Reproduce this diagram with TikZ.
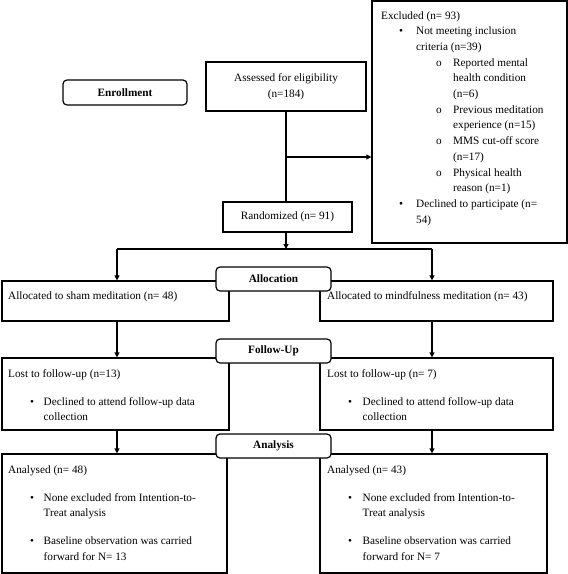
\documentclass[tikz,border=0pt]{standalone}
\usepackage{fontspec}
\setmainfont{Liberation Serif}
\usetikzlibrary{arrows.meta}
\newcommand{\fsz}{\fontsize{11.25}{15.7}\selectfont}
\begin{document}
\begin{tikzpicture}[x=1pt,y=-1pt,
  box/.style={draw, line width=1.2pt, inner sep=0pt},
  lab/.style={draw, line width=1.2pt, rounded corners=4pt, fill=white, minimum width=115pt, minimum height=24pt, font=\fsz\bfseries, inner sep=0pt},
  arr/.style={line width=1.1pt, -{Triangle[length=5pt,width=5pt]}},
  ln/.style={line width=1.1pt},
  txt/.style={anchor=base west, inner sep=0pt, align=left, font=\fsz}
]
\useasboundingbox (0,0) rectangle (568,574);

% boxes
\node[lab, minimum width=124pt, minimum height=25pt] (enroll) at (125,92.5) {Enrollment};
\node[box, minimum width=160pt, minimum height=49pt, font=\fsz, align=center] (assess) at (286,86.5) {Assessed for eligibility\\(n=184)};
\node[box, minimum width=129pt, minimum height=30pt, font=\fsz] (rand) at (287.5,217) {Randomized (n= 91)};
\node[box, minimum width=195pt, minimum height=242pt] (excl) at (469.5,122) {};
\node[box, minimum width=227pt, minimum height=40pt] (sham) at (115.5,301) {};
\node[box, minimum width=233pt, minimum height=40pt] (mind) at (436.5,301) {};
\node[box, minimum width=227pt, minimum height=72pt] (lostl) at (115.5,394) {};
\node[box, minimum width=233pt, minimum height=72pt] (lostr) at (436.5,394) {};
\node[box, minimum width=225pt, minimum height=119pt] (anal) at (114.5,513.5) {};
\node[box, minimum width=227pt, minimum height=119pt] (anar) at (433.5,513.5) {};

% stage labels
\node[lab] (alloc) at (273.5,279) {Allocation};
\node[lab] (follow) at (273.5,351) {Follow-Up};
\node[lab] (analysis) at (273.5,446) {Analysis};

% texts
\node[txt] (exT) at (381,19) {\parbox[t]{185pt}{\raggedright
Excluded (n= 93)\\
\hspace*{18pt}\makebox[17pt][l]{•}Not meeting inclusion\\
\hspace*{35pt}criteria (n=39)\\
\hspace*{55pt}\makebox[17pt][l]{o}Reported mental\\
\hspace*{72pt}health condition\\
\hspace*{72pt}(n=6)\\
\hspace*{55pt}\makebox[17pt][l]{o}Previous meditation\\
\hspace*{72pt}experience (n=15)\\
\hspace*{55pt}\makebox[17pt][l]{o}MMS cut-off score\\
\hspace*{72pt}(n=17)\\
\hspace*{55pt}\makebox[17pt][l]{o}Physical health\\
\hspace*{72pt}reason (n=1)\\
\hspace*{18pt}\makebox[17pt][l]{•}Declined to participate (n=\\
\hspace*{35pt}54)}};

\node[txt] (shamT) at (8,299) {Allocated to sham meditation (n= 48)};
\node[txt] (mindT) at (327,299) {Allocated to mindfulness meditation (n= 43)};

\node[txt] (lostlT) at (8,377) {\parbox[t]{215pt}{\raggedright
Lost to follow-up (n=13)\\[12.3pt]
\hspace*{22pt}\makebox[13.5pt][l]{•}Declined to attend follow-up data\\
\hspace*{35.5pt}collection}};
\node[txt] (lostrT) at (327,377) {\parbox[t]{220pt}{\raggedright
Lost to follow-up (n= 7)\\[12.3pt]
\hspace*{21pt}\makebox[14.5pt][l]{•}Declined to attend follow-up data\\
\hspace*{35.5pt}collection}};

\node[txt] (analT) at (8,473) {\parbox[t]{215pt}{\raggedright
Analysed (n= 48)\\[12.3pt]
\hspace*{22pt}\makebox[13.5pt][l]{•}None excluded from Intention-to-\\
\hspace*{35.5pt}Treat analysis\\[12.3pt]
\hspace*{22pt}\makebox[13.5pt][l]{•}Baseline observation was carried\\
\hspace*{35.5pt}forward for N= 13}};
\node[txt] (anarT) at (327,473) {\parbox[t]{215pt}{\raggedright
Analysed (n= 43)\\[12.3pt]
\hspace*{21pt}\makebox[14.5pt][l]{•}None excluded from Intention-to-\\
\hspace*{35.5pt}Treat analysis\\[12.3pt]
\hspace*{21pt}\makebox[14.5pt][l]{•}Baseline observation was carried\\
\hspace*{35.5pt}forward for N= 7}};

% connectors
\coordinate (ex) at (286,157);
\coordinate (mid) at (286,249);
\coordinate (sl) at (117,249);
\coordinate (sr) at (432,249);
\draw[ln] (assess.south) -- (assess.south |- rand.north);
\draw[arr] (ex) -- (ex -| excl.west);
\draw[arr] (mid |- rand.south) -- (mid);
\draw[ln] (sl) -- (sr);
\draw[arr] (sl) -- (sl |- sham.north);
\draw[arr] (sr) -- (sr |- mind.north);
\draw[arr] (sl |- sham.south) -- (sl |- lostl.north);
\draw[arr] (sr |- mind.south) -- (sr |- lostr.north);
\draw[arr] (sl |- lostl.south) -- (sl |- anal.north);
\draw[arr] (sr |- lostr.south) -- (sr |- anar.north);
\end{tikzpicture}
\end{document}
